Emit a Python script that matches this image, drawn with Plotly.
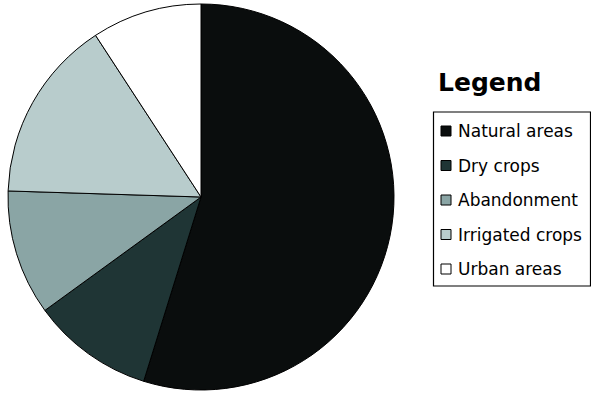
import plotly.graph_objects as go

# Land-use shares (percent)
categories = ["Natural areas", "Dry crops", "Abandonment", "Irrigated crops", "Urban areas"]
shares = [54.8, 10.2, 10.5, 15.3, 9.2]
colors = ["#0a0d0d", "#1f3535", "#8aa5a5", "#b8cccc", "#ffffff"]

W, H = 591, 395

fig = go.Figure(
    go.Pie(
        labels=categories,
        values=shares,
        sort=False,
        direction="clockwise",
        rotation=0,
        textinfo="none",
        hoverinfo="label+percent",
        marker=dict(colors=colors, line=dict(color="#000000", width=1)),
        domain=dict(x=[8 / W, 394 / W], y=[5 / H, 391 / H]),
        showlegend=False,
    )
)

# Legend panel: title, framed box, one swatch + label per category
px = lambda v: v / W
py = lambda v: 1 - v / H

fig.add_annotation(
    x=px(436), y=py(82), xref="paper", yref="paper",
    text="<b>Legend</b>", showarrow=False, xanchor="left", yanchor="middle",
    font=dict(family="DejaVu Sans", size=25, color="#000000"),
)
fig.add_shape(
    type="rect", xref="paper", yref="paper",
    x0=px(433.5), x1=px(590.5), y0=py(112), y1=py(286),
    line=dict(color="#000000", width=1.2), fillcolor="rgba(0,0,0,0)",
)
row0, step = 131, 34.5
for i, (name, col) in enumerate(zip(categories, colors)):
    yc = row0 + i * step
    fig.add_shape(
        type="rect", xref="paper", yref="paper",
        x0=px(441), x1=px(451), y0=py(yc - 5), y1=py(yc + 5),
        line=dict(color="#000000", width=1), fillcolor=col,
    )
    fig.add_annotation(
        x=px(456), y=py(yc), xref="paper", yref="paper",
        text=name, showarrow=False, xanchor="left", yanchor="middle",
        font=dict(family="DejaVu Sans", size=17, color="#000000"),
    )

fig.update_layout(
    width=W, height=H,
    margin=dict(l=0, r=0, t=0, b=0),
    paper_bgcolor="#ffffff", plot_bgcolor="#ffffff",
)

fig.write_html("out.html")
